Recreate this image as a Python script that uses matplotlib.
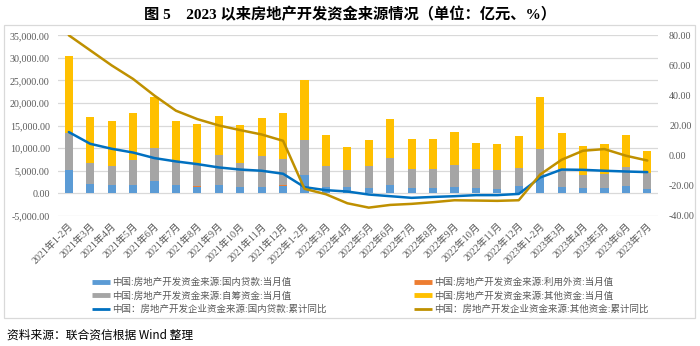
import matplotlib.pyplot as plt
import numpy as np
from matplotlib.lines import Line2D
from matplotlib.patches import Rectangle
from matplotlib.ticker import FuncFormatter

# fonts: serif latin digits, fall back to CJK for the hanzi
SERIF = ['Liberation Serif', 'Noto Sans CJK SC']
CJK = ['Noto Sans CJK SC', 'DejaVu Sans']
plt.rcParams['font.family'] = SERIF

#########################################################
# data (亿元 for bars, % for lines)
months = ['2021年1-2月', '2021年3月', '2021年4月', '2021年5月', '2021年6月', '2021年7月',
          '2021年8月', '2021年9月', '2021年10月', '2021年11月', '2021年12月',
          '2022年1-2月', '2022年3月', '2022年4月', '2022年5月', '2022年6月', '2022年7月',
          '2022年8月', '2022年9月', '2022年10月', '2022年11月', '2022年12月',
          '2023年1-2月', '2023年3月', '2023年4月', '2023年5月', '2023年6月', '2023年7月']

# 国内贷款:当月值
loans = [5150, 2000, 1770, 1800, 2650, 1840, 1500, 1900, 1400, 1480, 1700,
         4130, 1400, 1350, 1250, 1770, 1250, 1250, 1330, 1100, 1030, 1550,
         3390, 1480, 1180, 1100, 1550, 1030]
# 利用外资:当月值
foreign = [30, 20, 20, 30, 40, 30, 60, 20, 20, 30, 40,
           20, 10, 10, 10, 20, 10, 10, 10, 10, 10, 20,
           10, 10, 10, 10, 60, 10]
# 自筹资金:当月值
selfraised = [8230, 4760, 4180, 5460, 7260, 5200, 5000, 6480, 5360, 6670, 5920,
              7640, 4560, 3800, 4710, 6090, 4190, 4190, 4920, 4270, 4110, 3950,
              6470, 3910, 2790, 3140, 4210, 3460]
# 其他资金:当月值
other = [16930, 10080, 10010, 10460, 11490, 8910, 8760, 8690, 8250, 8550, 10020,
         13340, 7000, 5160, 5820, 8550, 6480, 6550, 7220, 5820, 5750, 7150,
         11420, 8010, 6480, 6580, 7000, 4780]

# 累计同比 (%)
loans_yoy = [15.7, 7.9, 4.6, 2.1, -1.6, -3.8, -5.6, -7.8, -9.2, -10.0, -12.0,
             -20.9, -22.9, -23.8, -25.8, -26.9, -28.0, -27.4, -26.9, -26.2, -26.2, -25.4,
             -14.5, -9.2, -9.4, -10.0, -10.5, -10.9]
other_yoy = [80.0, 70.0, 60.0, 51.0, 39.9, 29.9, 24.3, 20.1, 17.0, 14.1, 9.9,
             -22.0, -25.6, -31.6, -34.5, -32.7, -32.0, -30.9, -29.6, -29.8, -30.0, -29.6,
             -12.5, -2.7, 3.3, 4.4, 0.0, -3.2]

labels = ['中国:房地产开发资金来源:国内贷款:当月值',
          '中国:房地产开发资金来源:利用外资:当月值',
          '中国:房地产开发资金来源:自筹资金:当月值',
          '中国:房地产开发资金来源:其他资金:当月值',
          '中国：房地产开发企业资金来源:国内贷款:累计同比',
          '中国：房地产开发企业资金来源:其他资金:累计同比']

C_LOAN, C_FOR, C_SELF, C_OTH = '#5B9BD5', '#ED7D31', '#A5A5A5', '#FFC000'
C_LYOY, C_OYOY = '#0070C0', '#BF9000'
GREY_TXT = '#595959'

##########################################################
# figure
fig = plt.figure(figsize=(7, 3.46), dpi=100)
ax1 = fig.add_axes([0.083, 0.376, 0.857, 0.522])
ax2 = ax1.twinx()

x = np.arange(len(months))
w = 0.38
b1 = np.array(loans)
b2 = b1 + np.array(foreign)
b3 = b2 + np.array(selfraised)
ax1.bar(x, loans, w, color=C_LOAN, zorder=2)
ax1.bar(x, foreign, w, bottom=b1, color=C_FOR, zorder=2)
ax1.bar(x, selfraised, w, bottom=b2, color=C_SELF, zorder=2)
ax1.bar(x, other, w, bottom=b3, color=C_OTH, zorder=2)

ax2.plot(x, loans_yoy, color=C_LYOY, lw=1.8, solid_capstyle='round')
ax2.plot(x, other_yoy, color=C_OYOY, lw=1.8, solid_capstyle='round')

# left axis
ax1.set_ylim(-5000, 35000)
ax1.set_yticks(np.arange(-5000, 35001, 5000))
ax1.yaxis.set_major_formatter(FuncFormatter(lambda v, p: f'{v:,.2f}'))
ax1.grid(axis='y', color='#D9D9D9', lw=0.9)
ax1.set_axisbelow(True)
ax1.set_xlim(-0.5, len(months) - 0.5)
ax1.set_xticks(x)
ax1.set_xticklabels(months, rotation=45, ha='right', rotation_mode='anchor')

# right axis
ax2.set_ylim(-40, 80)
ax2.set_yticks(np.arange(-40, 81, 20))
ax2.yaxis.set_major_formatter(FuncFormatter(lambda v, p: f'{v:.2f}'))

for a in (ax1, ax2):
    for s in a.spines.values():
        s.set_visible(False)
    a.tick_params(length=0, labelsize=7.2, labelcolor=GREY_TXT)
ax1.tick_params(axis='y', pad=6)
ax2.tick_params(axis='y', pad=8)
ax1.tick_params(axis='x', pad=4, labelsize=7.2)
for t in ax1.get_xticklabels():
    t.set_family(SERIF)

# legend, two columns
h_bar = lambda c: Line2D([], [], color=c, lw=3.5, solid_capstyle='butt')
h_line = lambda c: Line2D([], [], color=c, lw=2.0, solid_capstyle='butt')
left_h = [h_bar(C_LOAN), h_bar(C_SELF), h_line(C_LYOY)]
right_h = [h_bar(C_FOR), h_bar(C_OTH), h_line(C_OYOY)]
left_l = [labels[0], labels[2], labels[4]]
right_l = [labels[1], labels[3], labels[5]]
common = dict(frameon=False, labelcolor=GREY_TXT, handlelength=1.9,
              handletextpad=0.25, labelspacing=0.42, borderaxespad=0, borderpad=0,
              prop={'family': CJK, 'size': 6.8})
fig.legend(left_h, left_l, loc='upper left', bbox_to_anchor=(0.131, 0.197), **common)
fig.legend(right_h, right_l, loc='upper left', bbox_to_anchor=(0.591, 0.197), **common)

# outer frame of the chart
fig.patches.append(Rectangle((0.006, 0.081), 0.987, 0.848, transform=fig.transFigure,
                             fill=False, edgecolor='#D9D9D9', lw=0.9))

fig.text(0.5, 0.958, '图 5    2023 以来房地产开发资金来源情况（单位：亿元、%）',
         ha='center', va='center', fontsize=11, fontweight='bold', family=SERIF)
fig.text(0.01, 0.03, '资料来源：联合资信根据 Wind 整理', ha='left', va='center',
         fontsize=8.5, family=CJK)

fig.savefig('out.png', dpi=100)
